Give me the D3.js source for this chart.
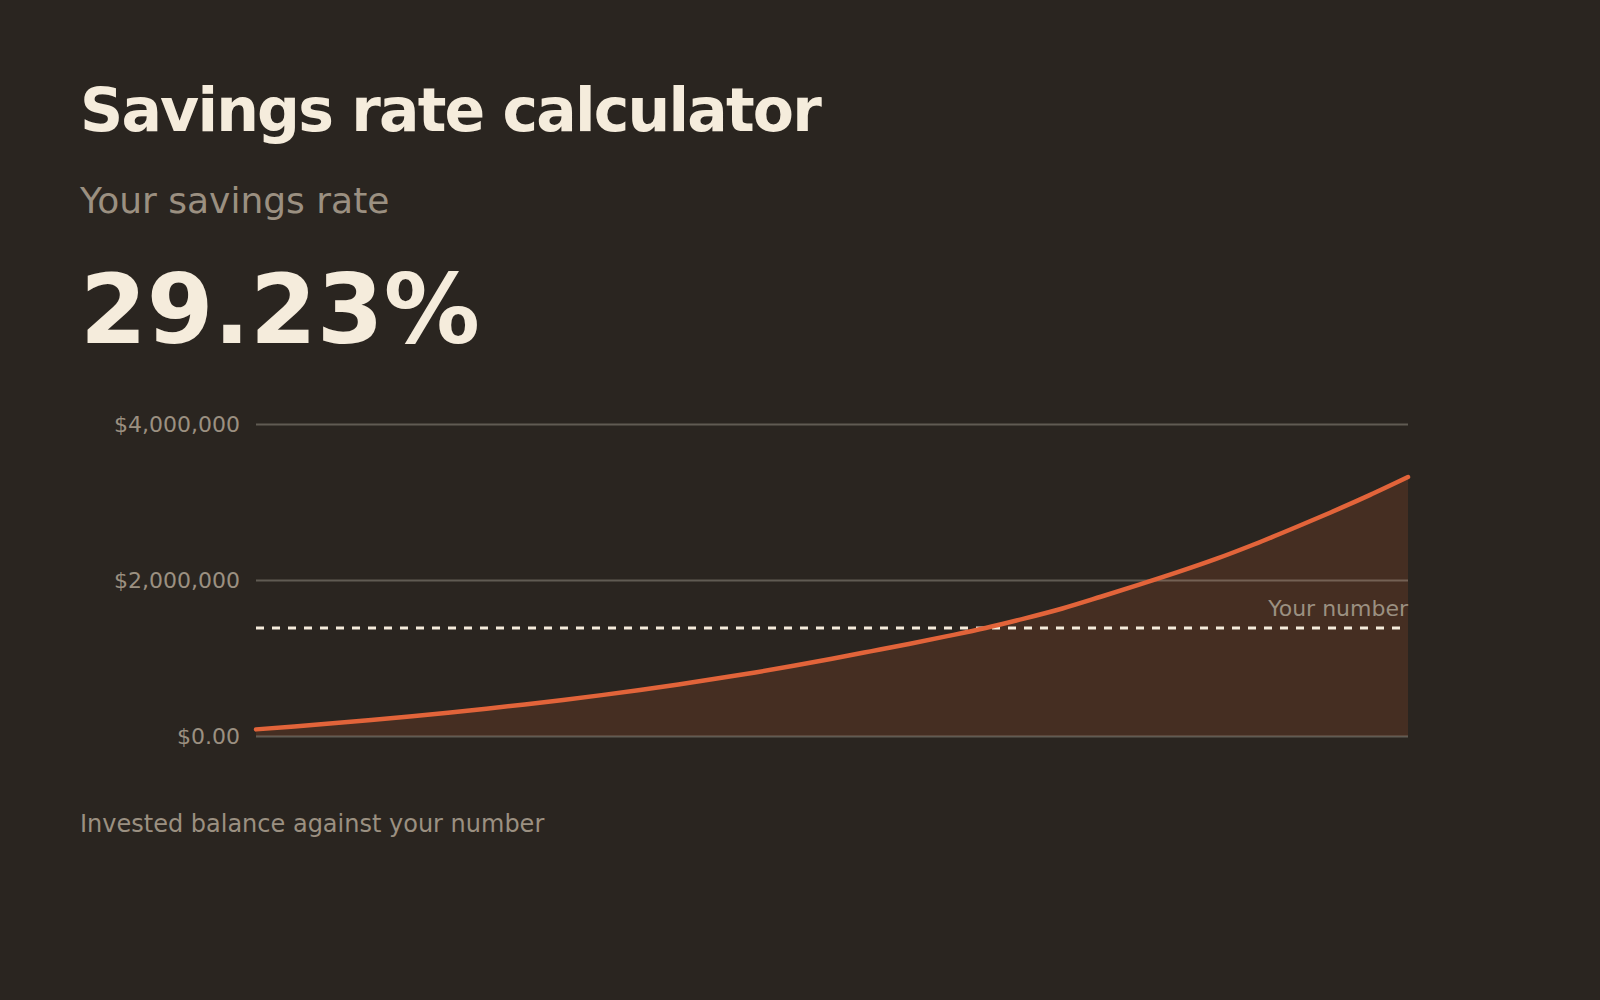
<!DOCTYPE html>
<html>
<head>
<meta charset="utf-8">
<script src="https://cdn.jsdelivr.net/npm/d3@7"></script>
<style>
  html, body { margin: 0; padding: 0; background: #2a2520; }
  svg { display: block; font-family: "DejaVu Sans", sans-serif; }
</style>
</head>
<body>
<div class="chart"></div>
<script>
var svgWidth = 1600;
var svgHeight = 1000;

// balance by year
var years = [0, 1, 2, 3, 4, 5, 6, 7, 8, 9, 10, 11, 12, 13, 14, 15,
  16, 17, 18, 19, 20, 21, 22, 23, 24, 25, 26, 27, 28, 29, 30];
var balances = [85000, 122000, 162000, 205000, 250000, 298000, 350000, 404000,
  462000, 524000, 590000, 661000, 736000, 815000, 900000, 991000,
  1085000, 1180000, 1280000, 1385000, 1505000, 1635000, 1785000, 1940000,
  2100000, 2270000, 2458000, 2660000, 2869000, 3088000, 3320000];
var yourNumber = 1385000;
var yTicks = [0, 2000000, 4000000];
var yTickLabels = ["$0.00", "$2,000,000", "$4,000,000"];
var savingsRate = "29.23%";

var margin = { top: 424, right: 192, bottom: 264, left: 256 };
var width = svgWidth - margin.left - margin.right;
var height = svgHeight - margin.top - margin.bottom;

var cream = "#f5ecdc";
var muted = "#9b9081";

var data = years.map(function(y, i) { return { year: y, value: balances[i] }; });

var svg = d3.select(".chart")
  .append("svg")
  .attr("width", svgWidth)
  .attr("height", svgHeight);

// header text
svg.append("text")
  .attr("x", 80)
  .attr("y", 131)
  .attr("fill", cream)
  .attr("font-size", "60px")
  .attr("font-weight", "bold")
  .attr("letter-spacing", "-1.8px")
  .text("Savings rate calculator");

svg.append("text")
  .attr("x", 80)
  .attr("y", 213)
  .attr("fill", muted)
  .attr("font-size", "36px")
  .text("Your savings rate");

svg.append("text")
  .attr("x", 80)
  .attr("y", 343)
  .attr("fill", cream)
  .attr("font-size", "96px")
  .attr("font-weight", "bold")
  .text(savingsRate);

svg.append("text")
  .attr("x", 80)
  .attr("y", 832)
  .attr("fill", muted)
  .attr("font-size", "24px")
  .text("Invested balance against your number");

var chartGroup = svg.append("g")
  .attr("transform", `translate(${margin.left}, ${margin.top})`);

var xScale = d3.scaleLinear()
  .domain(d3.extent(years))
  .range([0, width]);

var yScale = d3.scaleLinear()
  .domain([0, 4000000])
  .range([height, 0]);

// area under the balance
var area = d3.area()
  .x(d => xScale(d.year))
  .y0(height)
  .y1(d => yScale(d.value))
  .curve(d3.curveMonotoneX);

chartGroup.append("path")
  .datum(data)
  .attr("d", area)
  .attr("fill", "#452e22");

// gridlines + labels via axis
var leftAxis = d3.axisLeft(yScale)
  .tickValues(yTicks)
  .tickSize(-width)
  .tickPadding(16)
  .tickFormat((d, i) => yTickLabels[i]);

var yAxis = chartGroup.append("g").call(leftAxis);
yAxis.select(".domain").remove();
yAxis.selectAll(".tick line")
  .attr("stroke", cream)
  .attr("stroke-opacity", 0.27)
  .attr("stroke-width", 2);
yAxis.selectAll(".tick text")
  .attr("fill", muted)
  .attr("font-size", "22px")
  .attr("font-family", "DejaVu Sans, sans-serif");

// target line
chartGroup.append("line")
  .attr("x1", 0)
  .attr("x2", width)
  .attr("y1", yScale(yourNumber))
  .attr("y2", yScale(yourNumber))
  .attr("stroke", cream)
  .attr("stroke-width", 3)
  .attr("stroke-dasharray", "8 8");

chartGroup.append("text")
  .attr("x", width)
  .attr("y", yScale(yourNumber) - 12)
  .attr("text-anchor", "end")
  .attr("fill", muted)
  .attr("font-size", "22px")
  .text("Your number");

// balance line
var line = d3.line()
  .x(d => xScale(d.year))
  .y(d => yScale(d.value))
  .curve(d3.curveMonotoneX);

chartGroup.append("path")
  .datum(data)
  .attr("d", line)
  .attr("fill", "none")
  .attr("stroke", "#e2643a")
  .attr("stroke-width", 4.5)
  .attr("stroke-linecap", "round")
  .attr("stroke-linejoin", "round");
</script>
</body>
</html>
